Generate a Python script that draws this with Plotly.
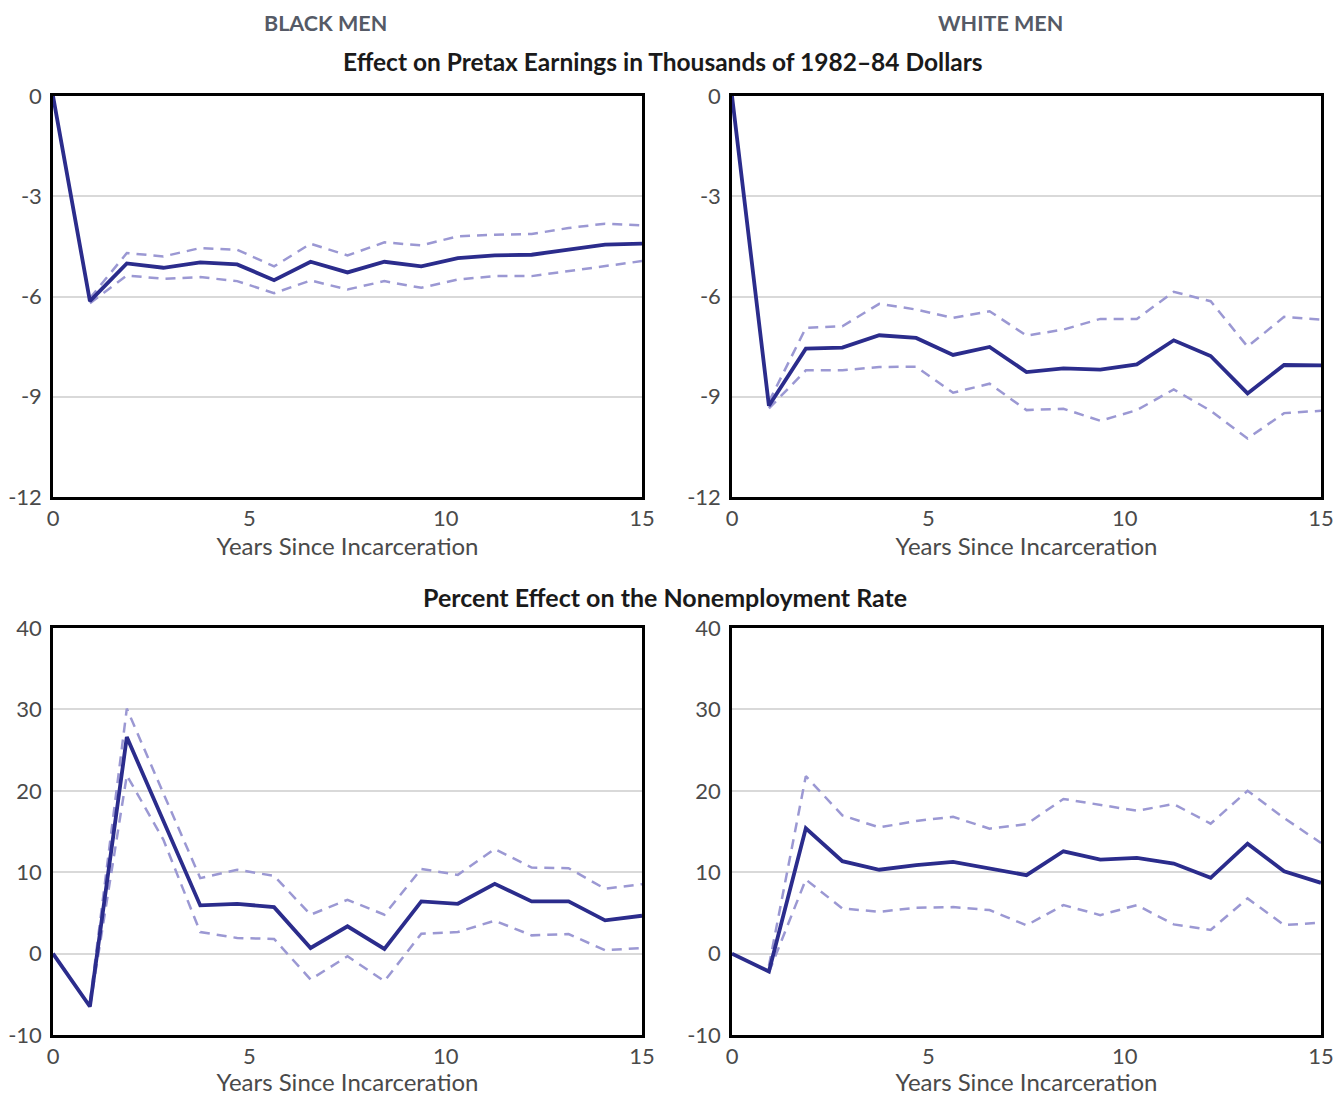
import plotly.graph_objects as go

# ---------------- data ----------------
years = [0, 0.94, 1.88, 2.81, 3.75, 4.69, 5.63, 6.56, 7.5, 8.44, 9.38, 10.31, 11.25, 12.19, 13.13, 14.06, 15]
years_ci = years[1:]

# Earnings effect (thousands of 1982-84 dollars)
earn_black = [0, -6.14, -5.01, -5.14, -4.98, -5.04, -5.51, -4.96, -5.28, -4.96, -5.10, -4.85, -4.77, -4.75, -4.60, -4.45, -4.42]
earn_black_hi = [-6.05, -4.70, -4.80, -4.55, -4.60, -5.10, -4.42, -4.77, -4.38, -4.47, -4.20, -4.15, -4.13, -3.95, -3.82, -3.87]
earn_black_lo = [-6.20, -5.37, -5.47, -5.42, -5.54, -5.90, -5.52, -5.79, -5.54, -5.74, -5.49, -5.39, -5.39, -5.24, -5.07, -4.94]

earn_white = [0, -9.27, -7.56, -7.53, -7.16, -7.24, -7.75, -7.51, -8.26, -8.15, -8.19, -8.03, -7.31, -7.78, -8.90, -8.05, -8.06]
earn_white_hi = [-9.15, -6.94, -6.89, -6.22, -6.39, -6.64, -6.44, -7.17, -6.99, -6.67, -6.67, -5.86, -6.14, -7.50, -6.61, -6.69]
earn_white_lo = [-9.35, -8.21, -8.21, -8.11, -8.10, -8.88, -8.61, -9.40, -9.36, -9.72, -9.40, -8.78, -9.42, -10.25, -9.49, -9.42]

# Percent effect on nonemployment rate
nonemp_black = [0, -6.5, 26.6, 16.3, 5.92, 6.12, 5.71, 0.69, 3.35, 0.57, 6.41, 6.12, 8.57, 6.41, 6.41, 4.08, 4.65]
nonemp_black_hi = [-6.0, 30.1, 19.7, 9.27, 10.3, 9.55, 4.78, 6.61, 4.78, 10.4, 9.67, 12.86, 10.57, 10.5, 7.96, 8.53]
nonemp_black_lo = [-6.6, 21.9, 14.0, 2.65, 1.92, 1.8, -3.18, -0.33, -3.39, 2.45, 2.65, 4.04, 2.24, 2.4, 0.41, 0.69]

nonemp_white = [0, -2.2, 15.4, 11.35, 10.3, 10.86, 11.27, 10.45, 9.63, 12.57, 11.55, 11.76, 11.06, 9.31, 13.5, 10.12, 8.69]
nonemp_white_hi = [-1.5, 21.8, 16.98, 15.5, 16.3, 16.8, 15.35, 15.9, 19.0, 18.3, 17.55, 18.37, 15.96, 20.0, 16.65, 13.59]
nonemp_white_lo = [-2.3, 9.1, 5.55, 5.14, 5.63, 5.71, 5.35, 3.47, 5.96, 4.73, 5.96, 3.59, 2.9, 6.78, 3.51, 3.8]

x_ticks = [0, 5, 10, 15]
earn_ticks = [0, -3, -6, -9, -12]
earn_tick_text = ["0", "-3", "-6", "-9", "-12"]
nonemp_ticks = [40, 30, 20, 10, 0, -10]
nonemp_tick_text = ["40", "30", "20", "10", "0", "-10"]

col_titles = ["BLACK MEN", "WHITE MEN"]
row_titles = ["Effect on Pretax Earnings in Thousands of 1982\u201384 Dollars",
              "Percent Effect on the Nonemployment Rate"]
x_title = "Years Since Incarceration"

# ---------------- style ----------------
MAIN = "#2b2c8c"
CI = "#9b98d3"
FONT = "Lato, 'Open Sans', sans-serif"
TICKCOL = "#4a4a4a"

fig = go.Figure()

panels = [
    (earn_black, earn_black_hi, earn_black_lo, "x", "y"),
    (earn_white, earn_white_hi, earn_white_lo, "x2", "y2"),
    (nonemp_black, nonemp_black_hi, nonemp_black_lo, "x3", "y3"),
    (nonemp_white, nonemp_white_hi, nonemp_white_lo, "x4", "y4"),
]

for main, hi, lo, xa, ya in panels:
    for band in (hi, lo):
        fig.add_trace(go.Scatter(x=years_ci, y=band, mode="lines", xaxis=xa, yaxis=ya,
                                 line=dict(color=CI, width=2.5, dash="10px,7px"),
                                 showlegend=False, hoverinfo="skip"))
    fig.add_trace(go.Scatter(x=years, y=main, mode="lines", xaxis=xa, yaxis=ya,
                             line=dict(color=MAIN, width=3.8),
                             showlegend=False))

W, H = 1344, 1096
xdoms = [(53 / W, 642 / W), (732 / W, 1321 / W)]
ydoms = [(1 - 497 / H, 1 - 96 / H), (1 - 1035 / H, 1 - 628 / H)]

layout = dict(
    template="none",
    width=W, height=H,
    margin=dict(l=0, r=0, t=0, b=0),
    paper_bgcolor="white", plot_bgcolor="white",
    font=dict(family=FONT, color=TICKCOL, size=22),
)

axis_names = [("xaxis", "yaxis"), ("xaxis2", "yaxis2"), ("xaxis3", "yaxis3"), ("xaxis4", "yaxis4")]
for k, (xn, yn) in enumerate(axis_names):
    r, c = divmod(k, 2)
    yticks = earn_ticks if r == 0 else nonemp_ticks
    ytext = earn_tick_text if r == 0 else nonemp_tick_text
    yrange = [-12, 0] if r == 0 else [-10, 40]
    anchor_y = "y" if k == 0 else f"y{k + 1}"
    anchor_x = "x" if k == 0 else f"x{k + 1}"
    layout[xn] = dict(domain=list(xdoms[c]), anchor=anchor_y, range=[0, 15], automargin=False,
                      tickvals=x_ticks, ticktext=[str(t) for t in x_ticks], ticks="",
                      showgrid=False, zeroline=False,
                      showline=True, linecolor="black", linewidth=2.5, mirror=True,
                      tickfont=dict(size=22, color=TICKCOL),
                      title=dict(text=x_title, font=dict(size=24, color=TICKCOL), standoff=6))
    layout[yn] = dict(domain=list(ydoms[r]), anchor=anchor_x, range=yrange, automargin=False,
                      tickvals=yticks, ticktext=ytext, ticks="",
                      showgrid=True, gridcolor="#d9d9d9", gridwidth=1.5,
                      zeroline=False, showline=True, linecolor="black", linewidth=2.5, mirror=True,
                      tickfont=dict(size=22, color=TICKCOL), ticklabelstandoff=4)

annotations = [
    dict(text="<b>" + col_titles[0] + "</b>", x=325 / W, y=1 - 23 / H, font=dict(size=21.5, color="#555a66", family=FONT)),
    dict(text="<b>" + col_titles[1] + "</b>", x=1000 / W, y=1 - 23 / H, font=dict(size=21.5, color="#555a66", family=FONT)),
    dict(text="<b>" + row_titles[0] + "</b>", x=663 / W, y=1 - 61 / H, font=dict(size=24.5, color="#1a1a1a", family=FONT)),
    dict(text="<b>" + row_titles[1] + "</b>", x=665 / W, y=1 - 597 / H, font=dict(size=25, color="#1a1a1a", family=FONT)),
]
for a in annotations:
    a.update(xref="paper", yref="paper", showarrow=False, xanchor="center", yanchor="middle")
layout["annotations"] = annotations

fig.update_layout(**layout)
fig.write_html("out.html", config={"displayModeBar": False},
               post_script="document.body.style.margin='0px';document.body.style.overflow='hidden';")
